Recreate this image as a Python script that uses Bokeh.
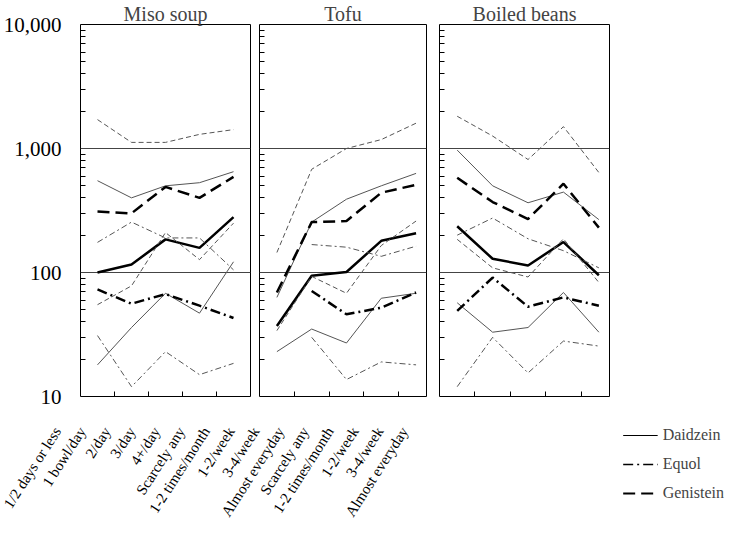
import math
import numpy as np
from bokeh.plotting import figure
from bokeh.models import Range1d, FixedTicker, Legend, LegendItem, Label
from bokeh.core.properties import value
from bokeh.layouts import row, column
from bokeh.embed import file_html
from bokeh.resources import INLINE

NaN = np.nan
SERIF = "Liberation Serif"

# ---------------- data (nM, plasma isoflavones by intake frequency) ----------------
miso_freq = ["1/2 days or less", "1 bowl/day", "2/day", "3/day", "4+/day"]
tofu_freq = ["Scarcely any", "1-2 times/month", "1-2/week", "3-4/week", "Almost everyday"]
beans_freq = ["Scarcely any", "1-2 times/month", "1-2/week", "3-4/week", "Almost everyday"]

panel_titles = ["Miso soup", "Tofu", "Boiled beans"]

miso_daidzein_p25 = [18, 36, 68, 47, 122]
miso_daidzein_med = [100, 116, 185, 158, 280]
miso_daidzein_p75 = [550, 400, 500, 530, 650]
miso_equol_p25 = [31, 12, 23, 15, 18.5]
miso_equol_med = [73, 56, 67, 54, 43]
miso_equol_p75 = [175, 255, 190, 190, 105]
miso_genistein_p25 = [55, 78, 210, 127, 250]
miso_genistein_med = [310, 300, 490, 400, 590]
miso_genistein_p75 = [1710, 1120, 1120, 1300, 1420]

tofu_daidzein_p25 = [23, 35, 27, 62, 68]
tofu_daidzein_med = [37, 94, 101, 180, 207]
tofu_daidzein_p75 = [63, 255, 390, 500, 630]
tofu_equol_p25 = [NaN, 30, 13.7, 19, 18]
tofu_equol_med = [NaN, 71, 46, 52, 69]
tofu_equol_p75 = [NaN, 168, 160, 135, 163]
tofu_genistein_p25 = [34, 93, 68, 165, 260]
tofu_genistein_med = [69, 255, 260, 440, 510]
tofu_genistein_p75 = [145, 680, 1000, 1180, 1600]

beans_daidzein_p25 = [57, 33, 36, 69, 33]
beans_daidzein_med = [236, 129, 114, 176, 95]
beans_daidzein_p75 = [970, 500, 365, 445, 267]
beans_equol_p25 = [12, 30, 15.5, 28, 25.5]
beans_equol_med = [49, 91, 53, 63, 54]
beans_equol_p75 = [200, 275, 187, 150, 109]
beans_genistein_p25 = [185, 109, 92, 187, 83]
beans_genistein_med = [580, 370, 270, 520, 230]
beans_genistein_p75 = [1820, 1260, 815, 1500, 640]

y_ticks = [10, 100, 1000, 10000]
y_tick_labels = ["10", "100", "1,000", "10,000"]
y_minor = [m * d for d in (10, 100, 1000) for m in range(2, 10)]
grid_levels = [100, 1000]

compounds = ["Daidzein", "Equol", "Genistein"]
thick_dash = {"Daidzein": "solid", "Equol": "10 4 2 4", "Genistein": "12 6"}
thin_dash = {"Daidzein": "solid", "Equol": "6 3 2 3", "Genistein": "5 3"}

panels_data = [
    (miso_freq, {"Daidzein": (miso_daidzein_p25, miso_daidzein_med, miso_daidzein_p75),
                 "Equol": (miso_equol_p25, miso_equol_med, miso_equol_p75),
                 "Genistein": (miso_genistein_p25, miso_genistein_med, miso_genistein_p75)}),
    (tofu_freq, {"Daidzein": (tofu_daidzein_p25, tofu_daidzein_med, tofu_daidzein_p75),
                 "Equol": (tofu_equol_p25, tofu_equol_med, tofu_equol_p75),
                 "Genistein": (tofu_genistein_p25, tofu_genistein_med, tofu_genistein_p75)}),
    (beans_freq, {"Daidzein": (beans_daidzein_p25, beans_daidzein_med, beans_daidzein_p75),
                  "Equol": (beans_equol_p25, beans_equol_med, beans_equol_p75),
                  "Genistein": (beans_genistein_p25, beans_genistein_med, beans_genistein_p75)}),
]

# ---------------- panels ----------------
frame_widths = [170, 167, 170]
x_ends = [4.5, 4.3, 4.3]
left_borders = [77, 5, 9]
right_borders = [4, 4, 4]

panels = []
for i, (cats, series) in enumerate(panels_data):
    p = figure(frame_width=frame_widths[i], frame_height=372,
               x_range=Range1d(-0.5, x_ends[i]), y_range=Range1d(10, 10000),
               y_axis_type="log", output_backend="svg", toolbar_location=None,
               min_border_left=left_borders[i], min_border_right=right_borders[i],
               min_border_top=19, min_border_bottom=13)
    p.title.text = panel_titles[i]
    p.title.align = "center"
    p.title.text_font = SERIF
    p.title.text_font_size = "20px"
    p.title.text_font_style = "normal"
    p.title.standoff = 0
    p.outline_line_color = "black"
    p.outline_line_width = 1
    p.background_fill_color = "white"
    p.border_fill_color = "white"

    xs = list(range(len(cats)))
    for c in compounds:
        lo, med, hi = series[c]
        p.line(xs, np.array(lo, dtype=float), line_color="#555555", line_width=1, line_dash=thin_dash[c])
        p.line(xs, np.array(hi, dtype=float), line_color="#555555", line_width=1, line_dash=thin_dash[c])
        p.line(xs, np.array(med, dtype=float), line_color="black", line_width=2.5, line_dash=thick_dash[c])

    # grids
    p.xgrid.visible = False
    p.ygrid.ticker = FixedTicker(ticks=grid_levels)
    p.ygrid.grid_line_color = "#444444"
    p.ygrid.grid_line_width = 1.2

    # x axis: inward ticks between categories, labels carried by the strip below
    p.xaxis.ticker = FixedTicker(ticks=[k + 0.5 for k in xs[:-1]])
    p.xaxis.major_label_text_font_size = "1px"
    p.xaxis.major_label_text_color = None
    p.xaxis.major_label_standoff = 0
    p.xaxis.major_tick_in = 5
    p.xaxis.major_tick_out = 0
    p.xaxis.minor_tick_line_color = None
    p.xaxis.axis_line_color = None
    p.xaxis.major_tick_line_color = "black"

    # y axis
    p.yaxis.ticker = FixedTicker(ticks=y_ticks, minor_ticks=y_minor)
    p.yaxis.major_tick_in = 0
    p.yaxis.major_tick_out = 0
    p.yaxis.minor_tick_in = 5
    p.yaxis.minor_tick_out = 0
    p.yaxis.minor_tick_line_color = "black"
    p.yaxis.axis_line_color = None
    if i == 0:
        p.yaxis.major_label_overrides = {t: l for t, l in zip(y_ticks, y_tick_labels)}
        p.yaxis.major_label_text_font = SERIF
        p.yaxis.major_label_text_font_size = "21px"
        p.yaxis.major_label_text_color = "black"
        p.yaxis.major_label_standoff = 19
        p.add_layout(Label(x=-0.5, y=10000, x_offset=0, y_offset=10, text="nM",
                           text_align="right", text_baseline="bottom",
                           text_font=SERIF, text_font_size="14px"))
    else:
        p.yaxis.major_label_text_font_size = "1px"
        p.yaxis.major_label_text_color = None
        p.yaxis.major_label_standoff = 0
    panels.append(p)

# ---------------- category labels + legend (bottom strip) ----------------
all_labels = miso_freq + tofu_freq + beans_freq
label_pos = list(range(len(all_labels)))
strip = figure(width=727, height=113, x_range=Range1d(-2.30, -2.30 + 727 / 24.79), y_range=Range1d(0, 103),
               output_backend="svg", toolbar_location=None,
               x_axis_location=None, y_axis_location=None,
               min_border_left=0, min_border_right=0, min_border_top=10, min_border_bottom=0)
strip.outline_line_color = None
strip.grid.visible = False
strip.text(x=label_pos, y=[94] * len(label_pos), text=all_labels, angle=1.0,
           text_align="right", text_baseline="middle", text_font=value(SERIF),
           text_font_size="15px", text_color="black")

items = []
for c, w in zip(compounds, [1.2, 1.5, 2.0]):
    r = strip.line([-50, -49], [-50, -49], line_color="black", line_width=w, line_dash=thick_dash[c])
    items.append(LegendItem(label=c, renderers=[r]))
legend = Legend(items=items, location="top_right", border_line_color=None, background_fill_alpha=0,
                glyph_width=35, glyph_height=20, label_text_font=SERIF, label_text_font_size="16px",
                label_standoff=5, spacing=4, padding=0, margin=3, label_height=25)
strip.add_layout(legend, "center")

layout = column(row(*panels), strip)
open("out.html", "w").write(file_html(layout, INLINE))
